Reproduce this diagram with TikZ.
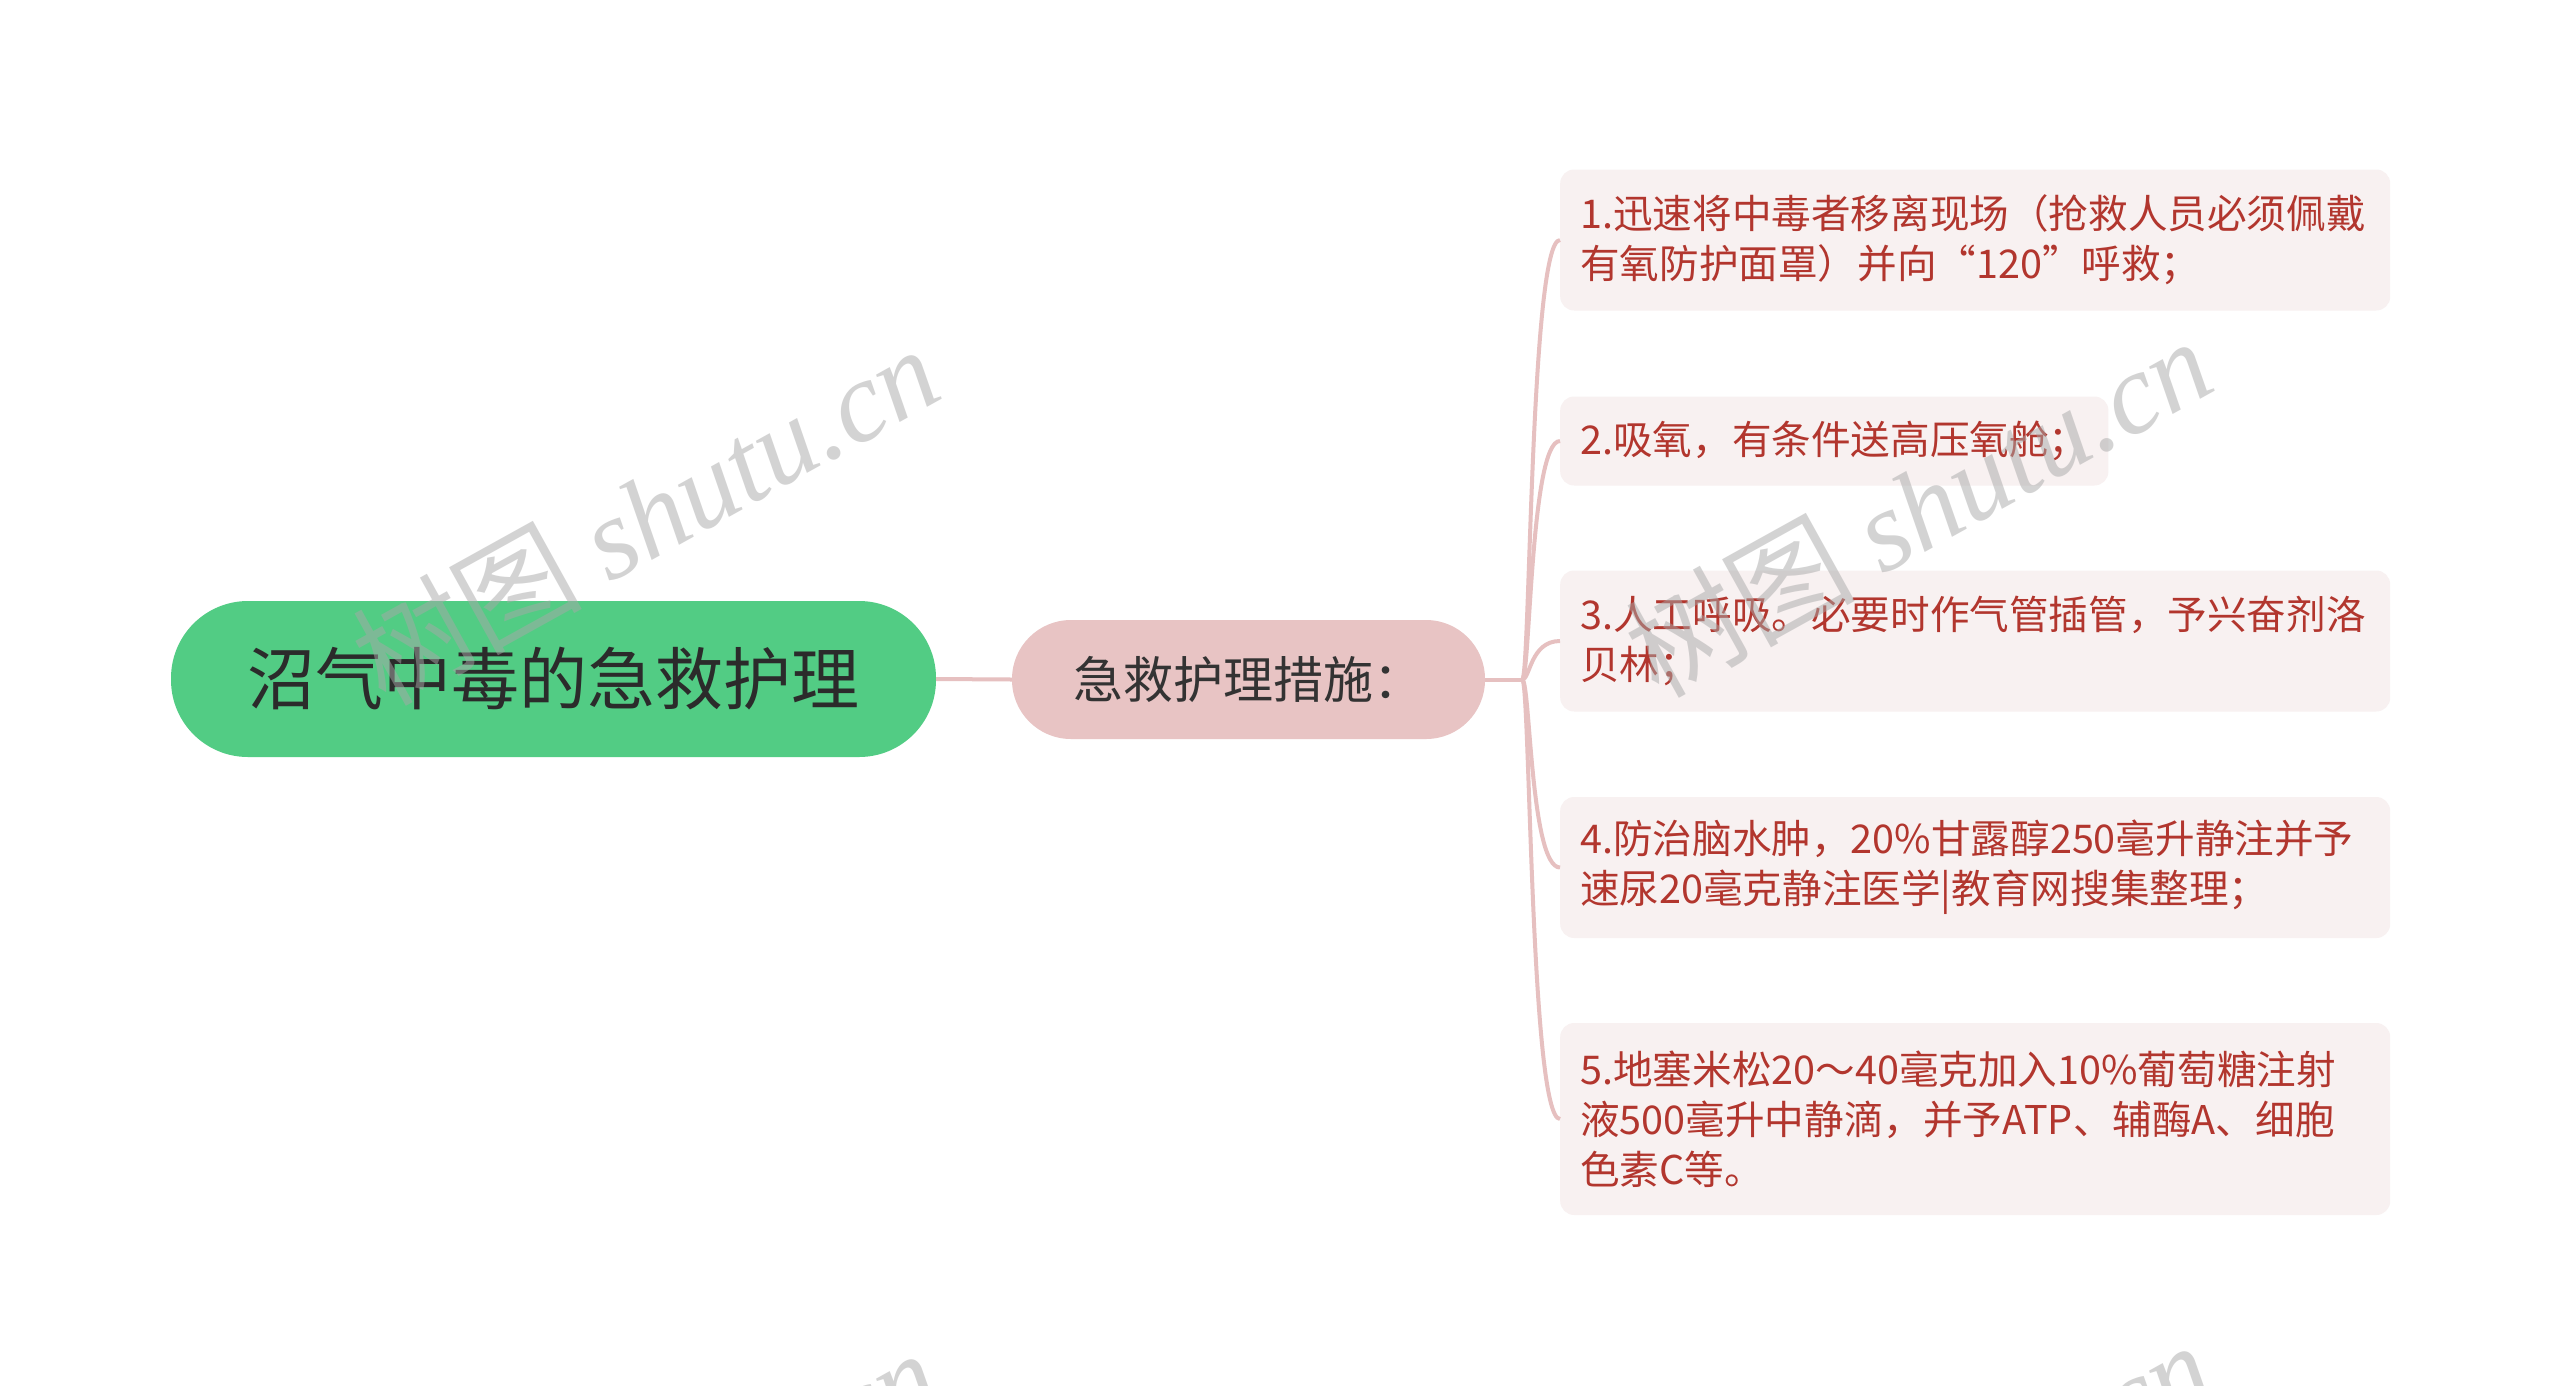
\documentclass[tikz,border=0pt]{standalone}
\usepackage{fontspec}
\setmainfont{Noto Sans CJK SC}
\newfontfamily\wmlatin{Liberation Serif}
\usetikzlibrary{calc}
\definecolor{rootgreen}{HTML}{52CC84}
\definecolor{roottext}{HTML}{2B2B2B}
\definecolor{branchpink}{HTML}{E8C4C4}
\definecolor{branchtext}{HTML}{333333}
\definecolor{leaffill}{HTML}{F8F1F1}
\definecolor{leaftext}{HTML}{B2362E}
\definecolor{linkcol}{HTML}{E6C0C0}
\definecolor{wmgray}{HTML}{A8A8A8}
\begin{document}
\begin{tikzpicture}[x=1pt,y=-1pt,
  rootbox/.style={fill=rootgreen, rounded corners=77pt, minimum width=765pt,
    minimum height=156pt, inner sep=0pt, text=roottext,
    font=\fontsize{68}{80}\selectfont},
  branchbox/.style={fill=branchpink, rounded corners=59pt, minimum width=473pt,
    minimum height=119pt, inner sep=0pt, text=branchtext,
    font=\fontsize{50}{60}\selectfont},
  leafbase/.style={fill=leaffill, rounded corners=14pt, align=left,
    inner xsep=20pt, inner ysep=0pt, text=leaftext, anchor=west,
    font=\fontsize{39.6}{50}\selectfont},
  leafwide/.style={leafbase, text width=790pt},
  link/.style={draw=linkcol, line width=4pt},
  wm/.style={text=wmgray, opacity=0.5, rotate=29, inner sep=0pt,
    font=\fontsize{115}{115}\selectfont}
]
\useasboundingbox (0,0) rectangle (2560,1385);
\clip (0,0) rectangle (2560,1385);
\fill[white] (0,0) rectangle (2560,1385);

\node[rootbox] (root) at (553.5,679) {沼气中毒的急救护理};
\node[branchbox] (branch) at (1248.5,679.5) {急救护理措施：};

\node[leafwide, minimum height=141pt] (l1) at (1560,240)
  {1.迅速将中毒者移离现场（抢救人员必须佩戴\\有氧防护面罩）并向“120”呼救；};
\node[leafbase, minimum height=89pt] (l2) at (1560,441)
  {2.吸氧，有条件送高压氧舱；};
\node[leafwide, minimum height=141pt] (l3) at (1560,641)
  {3.人工呼吸。必要时作气管插管，予兴奋剂洛\\贝林；};
\node[leafwide, minimum height=141pt] (l4) at (1560,867.5)
  {4.防治脑水肿，20\%甘露醇250毫升静注并予\\速尿20毫克静注医学|教育网搜集整理；};
\node[leafwide, minimum height=192pt] (l5) at (1560,1119)
  {5.地塞米松20～40毫克加入10\%葡萄糖注射\\液500毫升中静滴，并予ATP、辅酶A、细胞\\色素C等。};

\draw[link] (root.east) -- (branch.west);
\coordinate (J) at ($(branch.east)+(37,0)$);
\draw[link] (branch.east) -- (J);
\foreach \l in {l1,l2,l3,l4,l5}
  \draw[link] (J) .. controls ($(J)+(8,0)$) and ($(J|-\l.west)+(8,0)$) .. (\l.west);

\node[wm] (wm1) at (645,514) {树图 {\wmlatin\itshape shutu.cn}};
\node[wm] (wm2) at (1918,506) {树图 {\wmlatin\itshape shutu.cn}};
\node[wm] (wm3) at (645,1518) {树图 {\wmlatin\itshape shutu.cn}};
\node[wm] (wm4) at (1918,1510) {树图 {\wmlatin\itshape shutu.cn}};
\end{tikzpicture}
\end{document}
